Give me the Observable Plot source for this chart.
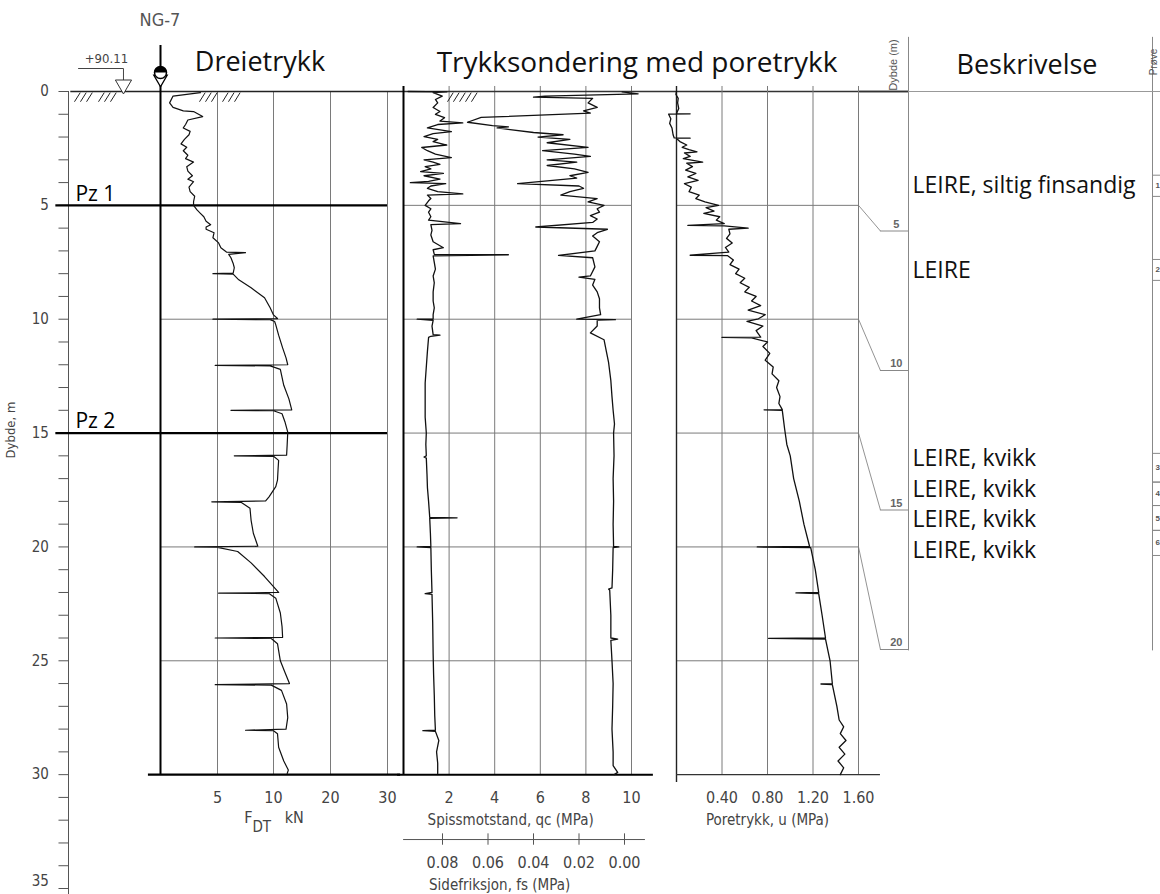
<!DOCTYPE html>
<html><head><meta charset="utf-8">
<script src="https://cdn.jsdelivr.net/npm/d3@7"></script>
<script src="https://cdn.jsdelivr.net/npm/@observablehq/plot@0.6"></script>
<style>
body{margin:0;background:#fff;}
#wrap{position:relative;width:1160px;height:894px;overflow:hidden;background:#fff;}
#wrap svg{position:absolute;left:0;top:0;}
.lbl{position:absolute;white-space:nowrap;transform:translate(-50%,-50%);line-height:1;}
.title{font-family:'Open Sans','Noto Sans',sans-serif;font-size:28px;color:#111;}
.tech{font-family:'Liberation Sans Narrow','DejaVu Sans Condensed',sans-serif;color:#444;}
</style></head>
<body><div id="wrap"></div>
<script>
// ---------- data ----------
const depthTicks = d3.range(0, 36);
const depthLabels = [0, 5, 10, 15, 20, 25, 30];
const depthLabelBottom = [35];
const dtTicks = [5, 10, 20, 30];
const qcTicks = [2, 4, 6, 8, 10];
const fsTicks = [0.08, 0.06, 0.04, 0.02, 0.00];
const uTicks = [0.4, 0.8, 1.2, 1.6];
const gridDepths = [5, 10, 15, 20, 25];
const dtGridDepths = [10, 20, 25];
const pzDepths = [5, 15];
const pzLabels = ["Pz 1", "Pz 2"];
const rightDepthLabels = [5, 10, 15, 20];
const samples = [
  {n: "1", top: 3.0, bot: 3.76}, {n: "2", top: 6.02, bot: 6.77},
  {n: "3", top: 12.97, bot: 14.0}, {n: "4", top: 14.0, bot: 14.84},
  {n: "5", top: 14.84, bot: 15.73}, {n: "6", top: 15.73, bot: 16.63}
];
const descriptions = [
  {text: "LEIRE, siltig finsandig", depth: 3.37},
  {text: "LEIRE", depth: 6.42},
  {text: "LEIRE, kvikk", depth: 13.15},
  {text: "LEIRE, kvikk", depth: 14.27},
  {text: "LEIRE, kvikk", depth: 15.34},
  {text: "LEIRE, kvikk", depth: 16.45}
];
const hatchDT = [-7.48, -6.96, -6.43, -5.39, -4.87, -4.35, 3.42, 3.95, 4.47, 5.45, 5.98, 6.52];
const hatchCPT = [1.93, 2.19, 2.46, 2.72, 2.98];

// Dreietrykk [depth m, F_DT kN]
const dreietrykk = [
  [0.05,3.5],[0.2,1.1],[0.5,0.8],[0.7,1.1],[0.85,2.0],[0.88,2.9],[1.1,3.7],[1.25,2.4],[1.45,2.2],[1.6,2.0],[1.75,2.6],[1.9,2.5],[2.1,2.1],[2.3,1.8],[2.45,2.3],[2.6,2.0],[2.8,2.4],[2.95,2.2],[3.1,2.9],[3.3,2.3],[3.5,2.4],[3.7,2.8],[3.85,2.4],[3.96,2.9],[4.2,2.5],[4.4,2.6],[4.6,3.0],[4.84,2.9],[5.0,2.9],[5.2,3.2],[5.35,3.5],[5.5,3.8],[5.7,4.0],[5.85,4.4],[5.95,4.0],[6.05,4.0],[6.2,4.7],[6.42,4.6],[6.65,5.1],[6.86,5.3],[7.05,5.8],[7.08,7.5],[7.15,6.0],[7.3,6.2],[7.55,6.4],[7.74,6.5],[7.98,6.4],[8.0,4.6],[8.02,6.4],[8.27,6.9],[8.62,8.0],[9.06,9.2],[9.5,9.7],[9.81,10.0],[9.97,10.7],
  [10.0,4.6],[10.02,9.7],[10.1,10.2],[10.25,10.4],[10.7,10.9],[11.26,11.6],[11.7,12.2],[12.0,12.5],
  [12.03,4.8],[12.05,9.7],[12.2,11.2],[12.9,11.8],[13.5,12.7],[13.98,13.2],
  [14.0,6.2],[14.02,10.0],[14.15,11.5],[14.5,12.0],[14.96,12.5],[15.5,12.4],[15.97,12.3],
  [16.0,6.5],[16.02,10.0],[16.2,10.9],[16.6,10.8],[17.07,10.7],[17.35,10.4],[17.8,9.6],[17.98,9.3],
  [18.02,4.5],[18.04,7.1],[18.3,7.9],[18.83,8.0],[19.4,8.2],[19.97,8.6],
  [20.0,3.0],[20.02,5.0],[20.2,6.8],[20.7,8.0],[21.3,9.2],[22.0,10.9],
  [22.03,5.1],[22.05,9.6],[22.25,10.4],[22.9,11.2],[23.5,11.5],[23.97,11.6],
  [24.0,4.8],[24.02,9.8],[24.25,10.7],[25.0,11.2],[25.5,12.0],[26.0,12.8],
  [26.05,4.8],[26.07,9.8],[26.3,11.4],[26.9,12.3],[27.5,12.5],[28.0,12.2],
  [28.05,7.5],[28.07,10.0],[28.2,10.7],[28.8,10.9],[29.4,11.8],[29.8,12.6],[29.95,12.4]
];

// Spissmotstand qc [depth m, MPa]
const qc = [
  [0.0,0.2],[0.02,1.9],[0.05,1.3],[0.2,1.7],[0.35,1.4],[0.5,1.5],[0.7,1.3],[0.88,1.6],[1.0,1.4],[1.15,1.8],[1.3,1.6],[1.38,2.6],[1.45,1.5],[1.6,1.05],[1.76,2.1],[1.85,1.3],[1.98,0.9],[2.1,1.5],[2.2,1.3],[2.35,1.9],[2.46,0.8],[2.6,1.05],[2.75,1.4],[2.9,2.1],[3.0,0.9],[3.1,1.3],[3.2,1.6],[3.3,0.95],[3.4,1.2],[3.52,0.75],[3.6,1.75],[3.7,0.9],[3.85,1.6],[3.95,1.1],[4.0,0.3],[4.05,1.85],[4.15,1.2],[4.25,1.05],[4.4,1.5],[4.5,2.6],[4.55,1.05],[4.7,1.2],[4.8,1.1],[5.0,0.95],
  [5.15,1.2],[5.3,1.1],[5.5,1.2],[5.65,1.1],[5.8,2.5],[5.85,1.2],[6.1,1.25],[6.3,1.2],[6.6,1.3],[6.86,1.75],[6.95,1.3],[7.15,1.35],[7.17,4.6],[7.22,1.3],[7.5,1.35],[7.8,1.4],[8.1,1.3],[8.4,1.35],[8.8,1.3],[9.2,1.3],[9.5,1.35],[9.8,1.3],[9.99,1.3],[10.0,0.6],[10.05,1.3],[10.3,1.25],[10.68,1.3],[10.7,1.6],[10.75,1.2],[10.8,1.1],[11.4,1.05],[12.1,1.0],[12.8,0.95],[13.6,0.95],[14.3,0.95],[15.0,1.0],[15.5,0.98],[16.0,1.0],[16.05,0.9],[16.1,1.0],[16.8,1.03],[17.4,1.05],[18.0,1.1],[18.7,1.15],[18.72,2.35],[18.74,1.15],[19.4,1.18],[19.98,1.2],[20.0,0.6],[20.03,1.2],[21.0,1.22],[22.0,1.25],[22.05,0.95],[22.08,1.25],[23.3,1.28],[24.7,1.3],[25.6,1.32],[26.5,1.35],[27.4,1.37],[28.05,1.4],[28.07,0.85],[28.1,1.4],[28.5,1.55],[29.0,1.45],[29.5,1.5],[29.95,1.5]
];

// Sidefriksjon fs [depth m, MPa]
const fs = [
  [0.02,0.001],[0.1,-0.006],[0.2,0.035],[0.25,0.04],[0.3,0.014],[0.5,0.016],[0.7,0.012],[0.85,0.018],[0.95,0.015],[1.14,0.063],[1.35,0.069],[1.5,0.058],[1.55,0.051],[1.6,0.056],[1.8,0.040],[1.9,0.027],[2.0,0.038],[2.1,0.024],[2.25,0.034],[2.45,0.016],[2.6,0.036],[2.75,0.022],[2.85,0.015],[3.0,0.034],[3.1,0.021],[3.25,0.034],[3.4,0.022],[3.55,0.016],[3.7,0.024],[3.8,0.021],[4.05,0.047],[4.15,0.02],[4.25,0.018],[4.4,0.024],[4.55,0.028],[4.7,0.012],[4.85,0.016],[5.0,0.009],
  [5.15,0.012],[5.3,0.011],[5.45,0.015],[5.6,0.012],[5.75,0.014],[5.95,0.039],[6.05,0.0075],[6.2,0.012],[6.35,0.014],[6.6,0.011],[6.8,0.012],[7.0,0.013],[7.2,0.029],[7.3,0.014],[7.7,0.013],[8.1,0.015],[8.15,0.020],[8.25,0.013],[8.5,0.014],[8.8,0.012],[9.1,0.011],[9.5,0.011],[9.8,0.0105],[10.0,0.021],[10.02,0.004],[10.05,0.012],[10.3,0.012],[10.6,0.015],[10.9,0.009],[11.4,0.008],[11.9,0.007],[12.7,0.006],[13.4,0.0055],[14.0,0.005],[14.6,0.0044],[15.0,0.0048],[16.0,0.0046],[17.0,0.005],[18.0,0.0048],[19.0,0.005],[19.98,0.0048],[20.0,0.0025],[20.03,0.005],[21.0,0.0052],[21.8,0.0055],[21.85,0.007],[21.9,0.0065],[23.0,0.006],[24.0,0.006],[24.05,0.003],[24.1,0.006],[25.0,0.0055],[26.0,0.005],[27.0,0.0052],[28.0,0.0055],[29.0,0.005],[29.6,0.005],[29.9,0.003],[30.0,0.0045]
];

// Poretrykk u [depth m, MPa]
const u = [
  [0.0,0.0],[0.13,-0.005],[0.3,0.015],[0.5,0.01],[0.75,0.02],[0.97,0.0],[0.98,0.12],[0.99,-0.07],[1.2,-0.05],[1.4,-0.06],[1.6,-0.04],[1.9,-0.03],[2.04,-0.02],[2.05,0.12],[2.06,0.0],[2.2,0.03],[2.35,0.09],[2.45,0.05],[2.55,0.11],[2.65,0.18],[2.7,0.07],[2.85,0.12],[2.95,0.06],[3.1,0.23],[3.15,0.09],[3.3,0.14],[3.45,0.08],[3.6,0.17],[3.75,0.1],[3.9,0.19],[4.05,0.07],[4.2,0.13],[4.4,0.11],[4.55,0.2],[4.7,0.17],[4.85,0.25],[5.0,0.37],[5.1,0.26],[5.25,0.33],[5.35,0.24],[5.5,0.38],[5.65,0.35],[5.8,0.42],[5.88,0.1],[5.9,0.42],[6.0,0.63],[6.05,0.46],[6.25,0.47],[6.45,0.44],[6.65,0.49],[6.85,0.43],[7.05,0.46],[7.19,0.12],[7.21,0.45],[7.4,0.5],[7.6,0.47],[7.8,0.55],[8.0,0.52],[8.2,0.6],[8.4,0.56],[8.6,0.64],[8.8,0.6],[9.0,0.7],[9.2,0.66],[9.4,0.74],[9.6,0.63],[9.8,0.78],[9.98,0.72],[10.1,0.62],[10.3,0.76],[10.5,0.7],[10.79,0.74],[10.8,0.4],[10.82,0.66],[11.0,0.8],[11.2,0.76],[11.5,0.82],[11.8,0.78],[12.1,0.85],[12.4,0.84],[12.7,0.9],[13.0,0.88],[13.4,0.91],[13.7,0.9],[13.97,0.93],[13.98,0.77],[14.0,0.93],[14.4,0.94],[14.8,0.95],[15.5,0.97],[16.0,1.0],[17.0,1.03],[18.0,1.08],[19.0,1.12],[19.98,1.17],[20.0,0.71],[20.03,1.18],[21.0,1.22],[22.0,1.25],[22.02,1.05],[22.05,1.25],[23.0,1.28],[24.0,1.31],[24.02,0.81],[24.05,1.31],[25.0,1.35],[26.0,1.37],[26.02,1.27],[26.05,1.37],[27.0,1.41],[27.6,1.43],[27.9,1.47],[28.2,1.44],[28.5,1.49],[28.8,1.43],[29.1,1.48],[29.4,1.42],[29.7,1.47],[30.0,1.44]
];

// ---------- layout ----------
const Y = {domain: [0, 35], range: [91, 888]};
const YR = {domain: [0, 20], range: [91, 649]};
const yM = Plot.scale({y: Y});
const yR = Plot.scale({y: YR});
const narrow = "'Liberation Sans Narrow','DejaVu Sans Condensed',sans-serif";
const sans = "'Open Sans','Noto Sans',sans-serif";
const ink = "#111", grid = "#7a7a7a", lab = "#444";
const wrap = document.getElementById("wrap");
const c = v => () => v;

function panel(x, y, marks) {
  const svg = Plot.plot({
    width: 1160, height: 894, margin: 0,
    x: {...x, axis: null}, y: {...y, axis: null},
    style: {background: "transparent", overflow: "visible"},
    marks
  });
  wrap.appendChild(svg);
  return svg;
}

const halfDisc = {draw(ctx, size) {
  const r = Math.sqrt(size / Math.PI);
  ctx.moveTo(-r, 0); ctx.arc(0, 0, r, Math.PI, 2 * Math.PI); ctx.closePath();
}};

// Panel A: depth axis + Dreietrykk (piecewise kN scale)
panel({type: "linear", domain: [-8, 0, 5, 10, 20, 30], range: [68, 160, 217, 273, 330, 387]}, Y, [
  Plot.ruleX([-8], {y1: c(0), y2: c(35.4), stroke: "#555", strokeWidth: 1}),
  Plot.link(depthTicks, {x1: c(-8.87), x2: c(-8), y1: d => d, y2: d => d, stroke: "#555", strokeWidth: 1}),
  Plot.text(depthLabels, {x: c(-9.7), y: d => d, text: d => String(d), textAnchor: "end", fontSize: 15, fontFamily: narrow, fill: lab}),
  Plot.text(depthLabelBottom, {x: c(-9.7), y: d => d, dy: -7, text: d => String(d), textAnchor: "end", fontSize: 15, fontFamily: narrow, fill: lab}),
  Plot.ruleX(dtTicks, {y1: c(0), y2: c(30), stroke: grid, strokeWidth: 1}),
  Plot.ruleY(dtGridDepths, {x1: c(0), x2: c(30), stroke: grid, strokeWidth: 1}),
  Plot.ruleY([0], {x1: c(-7.8), x2: c(32.8), stroke: "#222", strokeWidth: 1.6}),
  Plot.ruleY(pzDepths, {x1: c(-9.1), x2: c(30), stroke: "#000", strokeWidth: 2.2}),
  Plot.text(pzDepths, {x: c(-7.4), y: d => d - 0.5, text: (d, i) => pzLabels[i], textAnchor: "start", fontSize: 21, fontFamily: sans, fill: "#000"}),
  Plot.link(hatchDT, {x1: d => d, x2: d => d + 0.5, y1: c(0.45), y2: c(0.05), stroke: "#222", strokeWidth: 1}),
  Plot.ruleX([0], {y1: c(-2.02), y2: c(30), stroke: "#000", strokeWidth: 2}),
  Plot.ruleY([30], {x1: c(-1.05), x2: c(32.3), stroke: "#000", strokeWidth: 2.2}),
  Plot.line(dreietrykk, {x: d => d[1], y: d => d[0], stroke: ink, strokeWidth: 1.2}),
  Plot.text(dtTicks, {x: d => d, y: c(31.0), text: d => String(d), fontSize: 16, fontFamily: narrow, fill: lab}),
  // water level and borehole symbol
  Plot.line([[-7.13, -1.01], [-3.22, -1.01], [-3.22, -0.5]], {x: d => d[0], y: d => d[1], stroke: "#444", strokeWidth: 1}),
  Plot.dot([[-3.22, -0.3]], {x: d => d[0], y: d => d[1], symbol: "triangle", rotate: 180, r: 6, fill: "white", stroke: "#333", strokeWidth: 1}),
  Plot.text(["+90.11"], {x: c(-4.7), y: c(-1.45), text: d => d, fontSize: 13, fontFamily: narrow, fill: lab}),
  Plot.dot([[0, -0.55]], {x: d => d[0], y: d => d[1], symbol: "triangle", rotate: 180, r: 5, fill: "white", stroke: "#000", strokeWidth: 1.3}),
  Plot.dot([[0, -0.83]], {x: d => d[0], y: d => d[1], r: 6, fill: "white", stroke: "#000", strokeWidth: 1.5}),
  Plot.dot([[0, -0.83]], {x: d => d[0], y: d => d[1], symbol: halfDisc, r: 6, fill: "#000", stroke: "none"})
]);

// Panel B: qc
panel({domain: [0, 10], range: [403, 631]}, Y, [
  Plot.ruleX(qcTicks, {y1: c(-0.22), y2: c(30), stroke: grid, strokeWidth: 1}),
  Plot.ruleY(gridDepths, {x1: c(0), x2: c(10), stroke: grid, strokeWidth: 1}),
  Plot.ruleY([0], {x1: c(0), x2: c(22.15), stroke: "#333", strokeWidth: 1.4}),
  Plot.ruleX([0], {y1: c(-0.22), y2: c(30), stroke: "#000", strokeWidth: 2}),
  Plot.ruleY([30], {x1: c(-0.26), x2: c(10.96), stroke: "#000", strokeWidth: 2}),
  Plot.link(hatchCPT, {x1: d => d, x2: d => d + 0.25, y1: c(0.45), y2: c(0.05), stroke: "#222", strokeWidth: 1}),
  Plot.line(qc, {x: d => d[1], y: d => d[0], stroke: ink, strokeWidth: 1.3}),
  Plot.text(qcTicks, {x: d => d, y: c(31.0), text: d => String(d), fontSize: 16, fontFamily: narrow, fill: lab}),
  Plot.text(["Spissmotstand, qc (MPa)"], {x: c(4.7), y: c(31.98), text: d => d, fontSize: 15, fontFamily: narrow, fill: lab})
]);

// Panel C: fs (reversed scale)
panel({domain: [0.08, 0], range: [442, 624]}, Y, [
  Plot.line(fs, {x: d => d[1], y: d => d[0], stroke: ink, strokeWidth: 1.3}),
  Plot.ruleY([32.85], {x1: c(0.0971), x2: c(-0.0092), stroke: "#555", strokeWidth: 1}),
  Plot.ruleX(fsTicks, {y1: c(32.6), y2: c(33.1), stroke: "#555", strokeWidth: 1}),
  Plot.text(fsTicks, {x: d => d, y: c(33.86), text: d => d.toFixed(2), fontSize: 16, fontFamily: narrow, fill: lab}),
  Plot.text(["Sidefriksjon, fs (MPa)"], {x: c(0.0549), y: c(34.85), text: d => d, fontSize: 15, fontFamily: narrow, fill: lab})
]);

// Panel D: u
panel({domain: [0, 1.6], range: [676, 858]}, Y, [
  Plot.ruleX(uTicks, {y1: c(-0.22), y2: c(30), stroke: grid, strokeWidth: 1}),
  Plot.ruleY(gridDepths, {x1: c(0), x2: c(1.6), stroke: grid, strokeWidth: 1}),
  Plot.ruleX([0], {y1: c(-0.22), y2: c(30.35), stroke: "#222", strokeWidth: 1.4}),
  Plot.ruleY([30], {x1: c(0), x2: c(1.793), stroke: "#333", strokeWidth: 1.4}),
  Plot.link(rightDepthLabels, {x1: c(1.6), y1: d => d, x2: c(1.793), y2: d => yM.invert(yR.apply(d)), stroke: "#777", strokeWidth: 0.8}),
  Plot.line(u, {x: d => d[1], y: d => d[0], stroke: ink, strokeWidth: 1.3}),
  Plot.text(uTicks, {x: d => d, y: c(31.0), text: d => d.toFixed(2), fontSize: 16, fontFamily: narrow, fill: lab}),
  Plot.text(["Poretrykk, u (MPa)"], {x: c(0.8), y: c(31.98), text: d => d, fontSize: 15, fontFamily: narrow, fill: lab})
]);

// Panel E: Dybde (m) / Beskrivelse / Prøve columns (own depth scale)
panel({domain: [0, 1], range: [908, 1152]}, YR, [
  Plot.ruleX([0, 1], {y1: c(-1.94), y2: c(20.05), stroke: "#888", strokeWidth: 1}),
  Plot.ruleY([0], {x1: c(0), x2: c(1.04), stroke: "#999", strokeWidth: 1}),
  Plot.ruleY([0], {x1: c(-0.2), x2: c(0), stroke: "#333", strokeWidth: 1.4}),
  Plot.ruleY(rightDepthLabels, {x1: c(-0.115), x2: c(0), stroke: "#888", strokeWidth: 1}),
  Plot.text(rightDepthLabels, {x: c(-0.05), y: d => d, dy: -7, text: d => String(d), fontSize: 11, fontWeight: "bold", fontFamily: "'Liberation Sans',Arial,sans-serif", fill: "#666"}),
  Plot.ruleY(samples.flatMap(s => [s.top, s.bot]), {x1: c(1), x2: c(1.04), stroke: "#888", strokeWidth: 1}),
  Plot.text(samples, {x: c(1.012), y: s => (s.top + s.bot) / 2, text: s => s.n, textAnchor: "start", fontSize: 8, fontWeight: "bold", fontFamily: "'Liberation Sans',Arial,sans-serif", fill: "#555"}),
  Plot.text(descriptions, {x: c(0.0164), y: d => d.depth, text: d => d.text, textAnchor: "start", fontSize: 23, fontFamily: sans, fill: "#111"})
]);

// ---------- html labels ----------
const labels = [
  {t: "NG-7", x: 160, y: 20, cls: "tech", s: "font-size:18px;color:#555;"},
  {t: "Dreietrykk", x: 260, y: 60, cls: "title", s: "font-size:27px;"},
  {t: "Trykksondering med poretrykk", x: 637, y: 61, cls: "title", s: ""},
  {t: "Beskrivelse", x: 1027, y: 63, cls: "title", s: "font-size:27px;"},
  {t: "Dybde, m", x: 10, y: 430, cls: "tech", s: "font-size:13px;transform:translate(-50%,-50%) rotate(-90deg);"},
  {t: "Dybde (m)", x: 893, y: 65, cls: "tech", s: "font-family:'Liberation Sans',Arial,sans-serif;font-size:11px;color:#555;transform:translate(-50%,-50%) rotate(-90deg);"},
  {t: "Prøve", x: 1154, y: 62, cls: "tech", s: "font-family:'Liberation Sans',Arial,sans-serif;font-size:10px;color:#555;transform:translate(-50%,-50%) rotate(-90deg);"}
];
for (const l of labels) {
  const d = document.createElement("div");
  d.className = "lbl " + l.cls;
  d.textContent = l.t;
  d.style.cssText = `left:${l.x}px;top:${l.y}px;` + l.s;
  wrap.appendChild(d);
}
const f = document.createElement("div");
f.className = "lbl tech";
f.style.cssText = "left:274px;top:822px;font-size:16px;";
f.innerHTML = "F<sub style='font-size:15px;vertical-align:-9px'>DT</sub>&nbsp;&nbsp;&nbsp;kN";
wrap.appendChild(f);
</script>
</body></html>
